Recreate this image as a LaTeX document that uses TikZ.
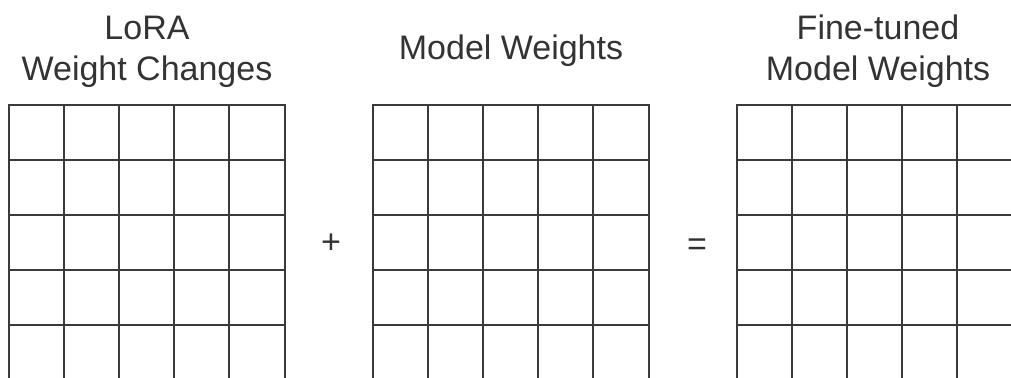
\documentclass[tikz,border=0pt]{standalone}
\usepackage{fontspec}
\setmainfont{Liberation Sans}
\usetikzlibrary{positioning}
\definecolor{ink}{HTML}{3A3A3A}
\definecolor{txt}{HTML}{333333}

\begin{document}
\begin{tikzpicture}[x=0.75pt,y=-0.75pt,
 every node/.style={font=\fontsize{25.5}{30.75}\selectfont,text=txt,inner sep=0pt},
 title/.style={align=center,anchor=base},
 gridline/.style={draw=ink,line width=1.5pt,line cap=rect}]
\useasboundingbox (0,0) rectangle (1011,378);
% titles
\node[title] (lora) at (147,81) {LoRA\\Weight Changes};
\node[title] (base) at (511,60) {Model Weights};
\node[title] (tuned) at (878,81) {Fine-tuned\\Model Weights};
% operators
\node (plus) at (331,244) {+};
\node (equals) at (697,247) {=};
% LoRA grid
\foreach \x in {9,64,119,174,229,285} \draw[gridline] (\x,105) -- (\x,390);
\foreach \y in {105,160,215,270,325} \draw[gridline] (9,\y) -- (285,\y);
% model grid
\foreach \x in {373,428,483,538,593,649} \draw[gridline] (\x,105) -- (\x,390);
\foreach \y in {105,160,215,270,325} \draw[gridline] (373,\y) -- (649,\y);
% fine-tuned grid
\foreach \x in {737,792,847,902,957} \draw[gridline] (\x,105) -- (\x,390);
\foreach \y in {105,160,215,270,325} \draw[gridline] (737,\y) -- (1020,\y);
\end{tikzpicture}
\end{document}
